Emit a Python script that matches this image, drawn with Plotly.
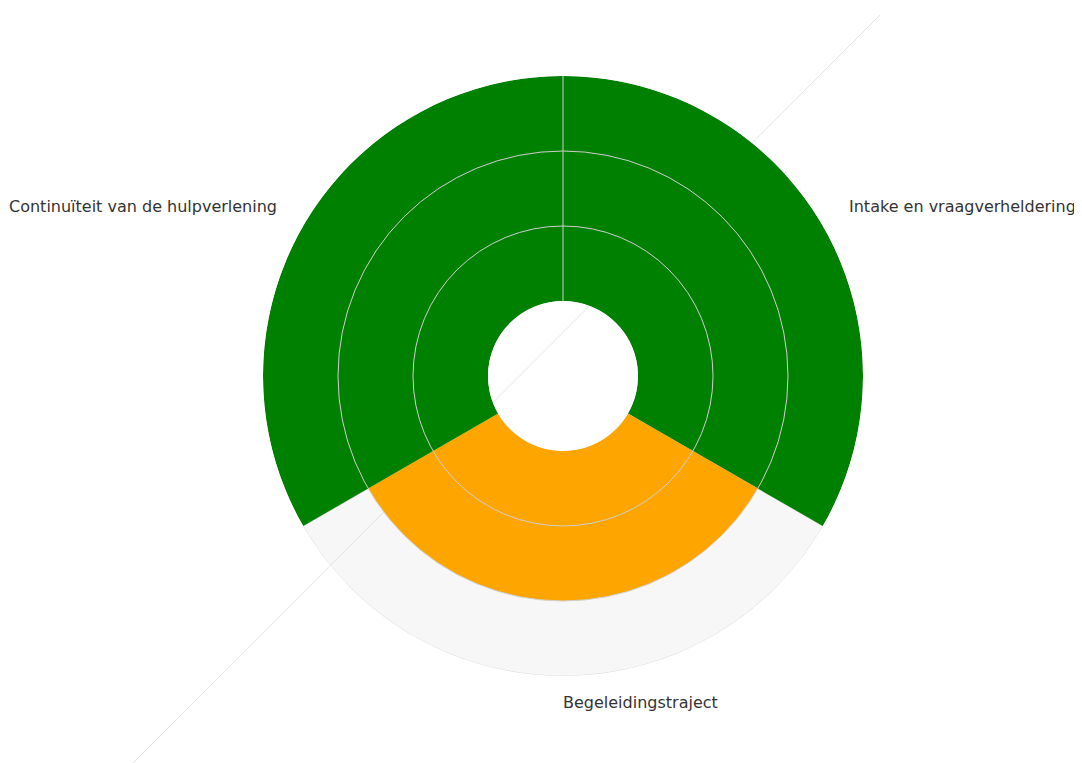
import math
import plotly.graph_objects as go

categories = ["Intake en vraagverheldering", "Begeleidingstraject", "Continuïteit van de hulpverlening"]
scores = [3, 2, 3]
max_score = [3, 3, 3]
bar_colors = ["#008000", "#FFA500", "#008000"]
grid_values = [1, 2, 3]

W, H = 1082, 763
# geometry of polar area (figure pixels; page has an 8px body margin)
cx, cy, R = 555, 368, 300
rotation = 30
dom_x = [(cx - R) / W, (cx + R) / W]
dom_y = [(H - cy - R) / H, (H - cy + R) / H]

fig = go.Figure()

fig.add_trace(go.Barpolar(
    r=max_score, theta=categories, subplot="polar",
    marker=dict(color="rgba(200,200,200,0.15)", line=dict(color="#dcdcdc", width=1)),
    hoverinfo="skip", showlegend=False,
))
fig.add_trace(go.Barpolar(
    r=scores, theta=categories, subplot="polar",
    marker=dict(color=bar_colors, line=dict(width=0)),
    showlegend=False,
))
fig.add_trace(go.Barpolar(
    r=[0, 0, 0], theta=categories, subplot="polar2",
    marker=dict(color="rgba(0,0,0,0)", line=dict(width=0)),
    hoverinfo="skip", showlegend=False,
))

common_angular = dict(
    type="category", direction="clockwise", rotation=rotation,
    showline=False, showgrid=False, ticks="", showticklabels=False,
)

# category labels placed around the circle
annotations = []
label_r = 330
for i, cat in enumerate(categories):
    a = math.radians(rotation - i * 360 / len(categories))
    c, s = math.cos(a), math.sin(a)
    left = c > -1e-6
    px = cx + c * label_r + (-2 if left else 2)
    py = cy - s * label_r - 4
    annotations.append(dict(
        text=cat, xref="paper", yref="paper",
        x=px / W, y=(H - py) / H,
        xanchor="left" if left else "right", yanchor="middle",
        showarrow=False, font=dict(family="DejaVu Sans, sans-serif", size=16, color="#333"),
    ))

fig.update_layout(
    width=W, height=H,
    margin=dict(l=0, r=0, t=0, b=0),
    paper_bgcolor="white",
    plot_bgcolor="white",
    font=dict(family="DejaVu Sans, sans-serif", size=16, color="#333"),
    showlegend=False,
    polar=dict(
        domain=dict(x=dom_x, y=dom_y),
        bgcolor="rgba(0,0,0,0)",
        hole=0.25,
        barmode="overlay",
        bargap=0,
        radialaxis=dict(
            range=[0, 3], tickvals=grid_values, showticklabels=False, ticks="",
            showgrid=False, showline=True, linecolor="#cfcfcf", linewidth=1, angle=90,
        ),
        angularaxis=common_angular,
    ),
    polar2=dict(
        domain=dict(x=dom_x, y=dom_y),
        bgcolor="rgba(0,0,0,0)",
        hole=0.25,
        bargap=0,
        radialaxis=dict(
            range=[0, 3], tickvals=grid_values[:-1], showticklabels=False, ticks="",
            showgrid=True, gridcolor="#cfcfcf", gridwidth=1, showline=False,
        ),
        angularaxis=common_angular,
    ),
    annotations=annotations,
    shapes=[dict(
        type="line", xref="paper", yref="paper", layer="below",
        x0=117 / W, y0=0, x1=872 / W, y1=(H - 7) / H,
        line=dict(color="#e4e4e4", width=1),
    )],
)

fig.write_html("out.html")
